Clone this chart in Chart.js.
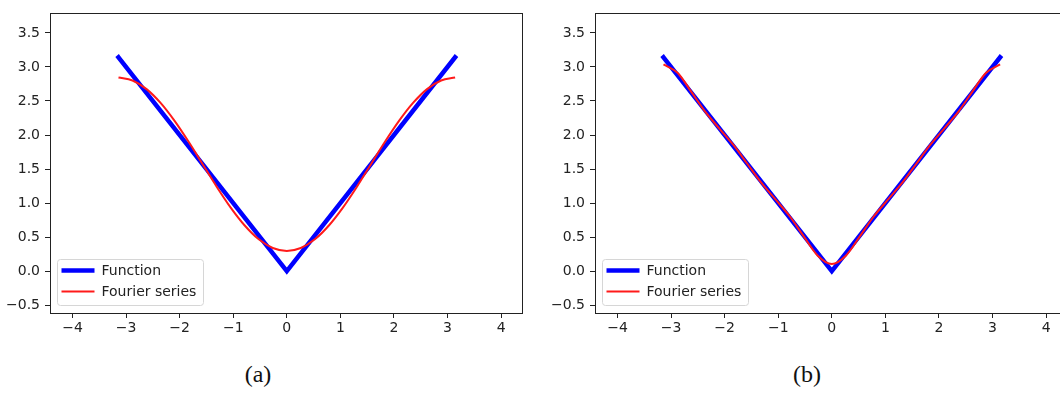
<!DOCTYPE html>
<html>
<head>
<meta charset="utf-8">
<script src="https://cdn.jsdelivr.net/npm/chart.js@4/dist/chart.umd.min.js"></script>
<style>
  html, body { margin:0; padding:0; background:#fff; width:1060px; height:395px; overflow:hidden; }
  .wrap { position:absolute; top:0; }
  canvas { display:block; }
  .cap { position:absolute; top:361px; font-family:"Liberation Serif","DejaVu Serif",serif; font-size:24px; color:#111; transform:translateX(-50%); }
</style>
</head>
<body>
<div class="wrap" style="left:0px;"><canvas id="ca" width="530" height="345"></canvas></div>
<div class="wrap" style="left:545px;"><canvas id="cb" width="530" height="345"></canvas></div>
<div class="cap" style="left:258px;">(a)</div>
<div class="cap" style="left:807px;">(b)</div>
<script>
// ---- data ----
const functionX = [-3.1416, 0, 3.1416];
const functionY = [3.1416, 0, 3.1416];

const seriesX = [-3.1416, -2.8798, -2.6180, -2.3562, -2.0944, -1.8326, -1.5708, -1.3090, -1.0472, -0.7854, -0.5236, -0.2618, 0,
                 0.2618, 0.5236, 0.7854, 1.0472, 1.3090, 1.5708, 1.8326, 2.0944, 2.3562, 2.6180, 2.8798, 3.1416];
// (a) Fourier series, few terms
const fourierA = [2.844, 2.801, 2.674, 2.471, 2.207, 1.900, 1.571, 1.241, 0.934, 0.671, 0.468, 0.341, 0.298,
                  0.341, 0.468, 0.671, 0.934, 1.241, 1.571, 1.900, 2.207, 2.471, 2.674, 2.801, 2.844];
// (b) Fourier series, more terms
const fourierB = [3.037, 2.914, 2.629, 2.335, 2.091, 1.850, 1.571, 1.292, 1.050, 0.807, 0.512, 0.228, 0.105,
                  0.228, 0.512, 0.807, 1.050, 1.292, 1.571, 1.850, 2.091, 2.335, 2.629, 2.914, 3.037];

const xTicks = [-4, -3, -2, -1, 0, 1, 2, 3, 4];
const xTickLabels = ['\u22124', '\u22123', '\u22122', '\u22121', '0', '1', '2', '3', '4'];
const yTicks = [-0.5, 0, 0.5, 1, 1.5, 2, 2.5, 3, 3.5];
const yTickLabels = ['\u22120.5', '0.0', '0.5', '1.0', '1.5', '2.0', '2.5', '3.0', '3.5'];

const seriesNames = ['Function', 'Fourier series'];
const BLUE = '#0000ff', RED = '#ff1a1a';

const FONT = { family: "'DejaVu Sans', sans-serif", size: 14 };
const TXT = '#222';

const framePlugin = {
  id: 'frame',
  afterDraw(chart) {
    const { ctx, chartArea: a } = chart;
    ctx.save();
    ctx.strokeStyle = '#222';
    ctx.lineWidth = 1;
    ctx.strokeRect(Math.round(a.left) + 0.5, Math.round(a.top) + 0.5, Math.round(a.right - a.left), Math.round(a.bottom - a.top));
    // legend
    const bx = a.left + 7.5, by = a.bottom - 53.5, bw = 146, bh = 46, r = 3;
    ctx.beginPath();
    ctx.moveTo(bx + r, by);
    ctx.arcTo(bx + bw, by, bx + bw, by + bh, r);
    ctx.arcTo(bx + bw, by + bh, bx, by + bh, r);
    ctx.arcTo(bx, by + bh, bx, by, r);
    ctx.arcTo(bx, by, bx + bw, by, r);
    ctx.closePath();
    ctx.fillStyle = 'rgba(255,255,255,0.85)';
    ctx.fill();
    ctx.strokeStyle = '#d6d6d6';
    ctx.stroke();
    seriesNames.forEach((name, i) => {
      const ds = chart.data.datasets.find(d => d.label === name);
      const y = by + 11 + i * 21;
      ctx.beginPath();
      ctx.moveTo(bx + 4, y);
      ctx.lineTo(bx + 37, y);
      ctx.strokeStyle = ds.borderColor;
      ctx.lineWidth = ds.borderWidth;
      ctx.lineCap = 'butt';
      ctx.stroke();
      ctx.fillStyle = TXT;
      ctx.font = "14px 'DejaVu Sans', sans-serif";
      ctx.textBaseline = 'middle';
      ctx.textAlign = 'left';
      ctx.fillText(ds.label, bx + 44, y + 0.5);
    });
    ctx.restore();
  }
};

function makeChart(id, fourier) {
  const fnData = functionX.map((x, i) => ({ x, y: functionY[i] }));
  const fsData = seriesX.map((x, i) => ({ x, y: fourier[i] }));
  return new Chart(document.getElementById(id), {
    type: 'line',
    data: {
      datasets: [
        { label: seriesNames[0], data: fnData, borderColor: BLUE, borderWidth: 4.5, pointRadius: 0, tension: 0, borderCapStyle: 'square', borderJoinStyle: 'miter', order: 2 },
        { label: seriesNames[1], data: fsData, borderColor: RED, borderWidth: 2, pointRadius: 0, cubicInterpolationMode: 'monotone', order: 1 }
      ]
    },
    options: {
      responsive: false,
      animation: false,
      devicePixelRatio: 1,
      layout: { padding: { top: 5, right: 8, left: 0, bottom: 0 } },
      plugins: { legend: { display: false }, tooltip: { enabled: false } },
      scales: {
        x: {
          type: 'linear', min: -4.42, max: 4.39,
          afterBuildTicks: s => { s.ticks = xTicks.map(v => ({ value: v })); },
          afterFit: s => { s.height = 32; },
          ticks: { font: FONT, color: TXT, padding: 2, maxRotation: 0, autoSkip: false,
                   callback: (v) => xTickLabels[xTicks.indexOf(v)] },
          grid: { display: true, drawOnChartArea: false, drawTicks: true, tickLength: 5, color: '#222', lineWidth: 1 },
          border: { display: false }
        },
        y: {
          type: 'linear', min: -0.614, max: 3.786,
          afterBuildTicks: s => { s.ticks = yTicks.map(v => ({ value: v })); },
          afterFit: s => { s.width = 50; },
          ticks: { font: FONT, color: TXT, padding: 5, autoSkip: false,
                   callback: (v) => yTickLabels[yTicks.indexOf(v)] },
          grid: { display: true, drawOnChartArea: false, drawTicks: true, tickLength: 5, color: '#222', lineWidth: 1 },
          border: { display: false }
        }
      }
    },
    plugins: [framePlugin]
  });
}

makeChart('ca', fourierA);
makeChart('cb', fourierB);
</script>
</body>
</html>
